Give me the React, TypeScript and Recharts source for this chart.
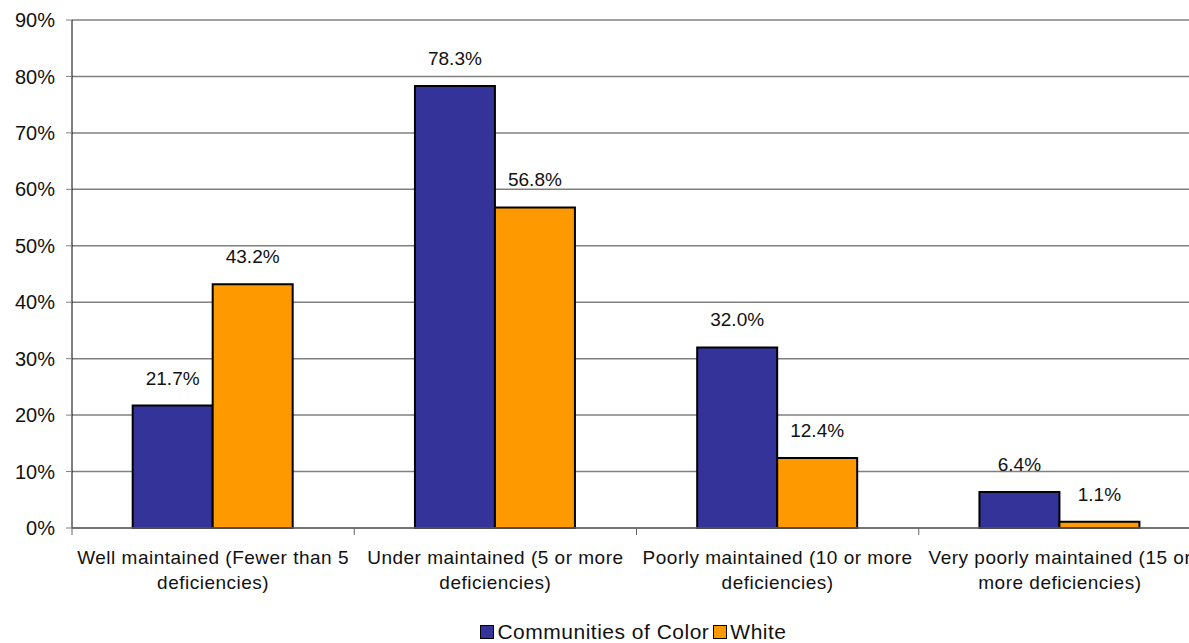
import { Bar, BarChart, CartesianGrid, LabelList, Legend, XAxis, YAxis } from 'recharts'

const categoryLines = [
  ['Well maintained (Fewer than 5', 'deficiencies)'],
  ['Under maintained (5 or more', 'deficiencies)'],
  ['Poorly maintained (10 or more', 'deficiencies)'],
  ['Very poorly maintained (15 or', 'more deficiencies)'],
]
const colorValues = [21.7, 78.3, 32.0, 6.4]
const whiteValues = [43.2, 56.8, 12.4, 1.1]
const yTicks = [0, 10, 20, 30, 40, 50, 60, 70, 80, 90]

const seriesNames = { color: 'Communities of Color', white: 'White' }
const seriesColors = { color: '#333399', white: '#FF9900' }

const data = categoryLines.map((lines, i) => ({
  name: lines.join(' '),
  color: colorValues[i],
  white: whiteValues[i],
}))

const fontFamily = '"Liberation Sans", Arial, sans-serif'
const chartWidth = 1200
const plotLeft = 64
const plotRight = 7
const bandWidth = (chartWidth - plotLeft - plotRight) / categoryLines.length

function CategoryTick(props: any) {
  const { x, y, index } = props
  const lines = categoryLines[index] || []
  const left = x - bandWidth / 2
  return (
    <g>
      <line x1={left} x2={left} y1={y} y2={y + 7} stroke="#666" />
      {index === categoryLines.length - 1 && (
        <line x1={x + bandWidth / 2} x2={x + bandWidth / 2} y1={y} y2={y + 7} stroke="#666" />
      )}
      <text x={x} y={y} textAnchor="middle" fill="#111" fontSize={19} letterSpacing={0.5}>
        {lines.map((line, i) => (
          <tspan key={i} x={x} dy={i === 0 ? 36 : 25}>
            {line}
          </tspan>
        ))}
      </text>
    </g>
  )
}

function LegendContent() {
  const items = [
    { key: 'color', label: seriesNames.color, fill: seriesColors.color },
    { key: 'white', label: seriesNames.white, fill: seriesColors.white },
  ]
  return (
    <div
      style={{
        display: 'flex',
        justifyContent: 'center',
        alignItems: 'center',
        paddingLeft: 62,
        fontSize: 21,
        letterSpacing: 0.5,
        color: '#111',
        fontFamily,
        lineHeight: '22px',
      }}
    >
      {items.map((item) => (
        <span key={item.key} style={{ display: 'inline-flex', alignItems: 'center', marginRight: 4 }}>
          <span
            style={{
              display: 'inline-block',
              width: 12,
              height: 12,
              background: item.fill,
              border: '1.5px solid #000',
              marginRight: 3,
            }}
          />
          {item.label}
        </span>
      ))}
    </div>
  )
}

export default function App() {
  return (
    <div
      style={{
        position: 'fixed',
        left: 0,
        top: 0,
        width: 1189,
        height: 643,
        padding: '8px 0 0 8px',
        boxSizing: 'border-box',
        overflow: 'hidden',
        background: '#fff',
        fontFamily,
      }}
    >
      <BarChart
        width={chartWidth}
        height={635}
        data={data}
        margin={{ top: 12, right: plotRight, bottom: 0, left: 0 }}
        barCategoryGap="21.5%"
        barGap={0}
      >
        <CartesianGrid horizontal vertical={false} stroke="#808080" strokeWidth={1.5} />
        <YAxis
          width={plotLeft}
          domain={[0, 90]}
          ticks={yTicks}
          interval={0}
          tickFormatter={(v) => `${v}%`}
          tick={{ fontSize: 20, fill: '#111' }}
          tickSize={6}
          tickMargin={11}
          tickLine={{ stroke: '#808080' }}
          axisLine={{ stroke: '#000' }}
        />
        <XAxis
          dataKey="name"
          height={93}
          interval={0}
          tickSize={0}
          tickMargin={0}
          tickLine={false}
          tick={<CategoryTick />}
          axisLine={{ stroke: '#666', strokeWidth: 1.5 }}
        />
        <Legend verticalAlign="bottom" content={<LegendContent />} />
        <Bar
          dataKey="color"
          name={seriesNames.color}
          fill={seriesColors.color}
          stroke="#000"
          strokeWidth={2}
          isAnimationActive={false}
        >
          <LabelList
            dataKey="color"
            position="top"
            offset={21}
            formatter={(v: any) => `${Number(v).toFixed(1)}%`}
            style={{ fontSize: 19, fill: '#111' }}
          />
        </Bar>
        <Bar
          dataKey="white"
          name={seriesNames.white}
          fill={seriesColors.white}
          stroke="#000"
          strokeWidth={2}
          isAnimationActive={false}
        >
          <LabelList
            dataKey="white"
            position="top"
            offset={21}
            formatter={(v: any) => `${Number(v).toFixed(1)}%`}
            style={{ fontSize: 19, fill: '#111' }}
          />
        </Bar>
      </BarChart>
    </div>
  )
}
